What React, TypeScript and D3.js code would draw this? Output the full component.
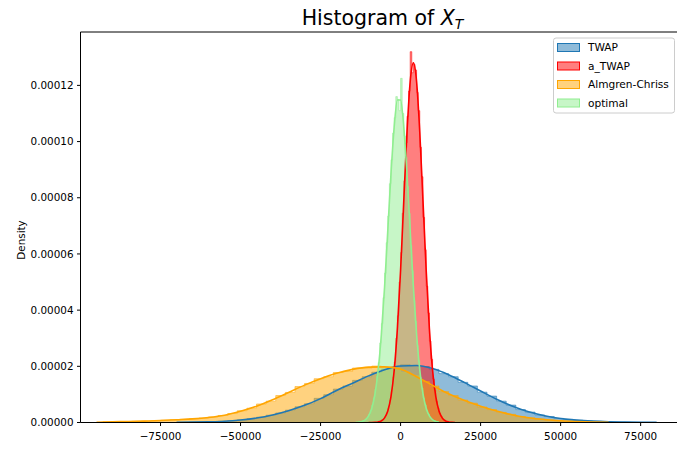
import React from 'react';
import * as d3 from 'd3';

// ---------- data (densities in units of 1e-6) ----------
const seriesNames = ['TWAP', 'a_TWAP', 'Almgren-Chriss', 'optimal'];
const seriesColors = ['#1f77b4', '#ff0000', '#ffa500', '#90ee90'];

// TWAP histogram: bins start at -66000, width 3000
const twapBinStart = -66000;
const twapBinWidth = 3000;
const twapHist = [
  0.15, 0.22, 0.3, 0.45, 0.65, 0.95, 1.35, 1.9, 2.6, 3.4, 4.4, 5.6, 6.7, 8.6, 9.9, 11.9,
  13.0, 15.0, 16.3, 17.9, 19.0, 19.7, 20.6, 20.0, 19.9, 18.9, 17.4, 16.3, 14.3, 13.0, 10.8,
  9.4, 7.6, 6.2, 4.6, 3.7, 2.7, 2.1, 1.45, 1.1, 0.8, 0.55, 0.38, 0.27, 0.17, 0.11, 0.07, 0.04,
];
const twapKdeX = [
  -70000, -65000, -60000, -55000, -50000, -45000, -40000, -35000, -30000, -25000, -20000, -15000,
  -10000, -5000, 0, 5000, 10000, 15000, 20000, 25000, 30000, 35000, 40000, 45000, 50000, 55000,
  60000, 65000, 70000, 75000, 80000,
];
const twapKdeY = [
  0.05, 0.15, 0.25, 0.45, 0.9, 1.6, 2.7, 4.2, 6.1, 8.5, 11.4, 14.0, 16.6, 18.8, 20.1, 20.3,
  19.2, 17.0, 14.2, 11.2, 8.3, 5.8, 3.8, 2.4, 1.45, 0.85, 0.5, 0.28, 0.15, 0.07, 0.03,
];

// a_TWAP histogram: bins start at -9000, width 500
const aTwapBinStart = -9000;
const aTwapBinWidth = 500;
const aTwapHist = [
  0.02, 0.04, 0.08, 0.15, 0.3, 0.45, 0.8, 1.3, 2.0, 3.4, 5.0, 7.9, 11.0, 16.2, 21.5, 30.0,
  38.0, 50.0, 60.5, 74.5, 86.0, 99.5, 109.0, 118.0, 132.0, 124.5, 127.5, 125.5, 117.5, 111.0,
  98.0, 87.5, 73.0, 61.5, 48.5, 39.0, 29.0, 22.5, 15.5, 11.5, 7.5, 5.2, 3.2, 2.1, 1.3, 0.8,
  0.45, 0.26, 0.15, 0.08, 0.04,
];
const aTwapKdeX = [
  -10000, -9000, -8000, -7000, -6000, -5000, -4000, -3000, -2000, -1000, 0, 1000, 2000, 3000,
  4000, 5000, 6000, 7000, 8000, 9000, 10000, 11000, 12000, 13000, 14000, 15000, 16000, 17000,
];
const aTwapKdeY = [
  0.0, 0.01, 0.06, 0.19, 0.59, 1.65, 4.1, 9.2, 18.5, 33.4, 54.2, 78.9, 103.2, 121.3, 128.0,
  121.3, 103.2, 78.9, 54.2, 33.4, 18.5, 9.2, 4.1, 1.65, 0.59, 0.19, 0.06, 0.01,
];

// Almgren-Chriss histogram: bins start at -93000, width 3000
const acBinStart = -93000;
const acBinWidth = 3000;
const acHist = [
  0.25, 0.28, 0.32, 0.42, 0.5, 0.62, 0.8, 0.95, 1.15, 1.35, 1.6, 2.0, 2.5, 3.2, 4.2, 5.1, 6.6,
  7.6, 9.6, 10.7, 12.8, 13.9, 15.6, 16.3, 17.8, 18.2, 19.4, 19.3, 20.1, 19.6, 19.4, 17.9, 16.6,
  14.6, 13.0, 11.0, 9.6, 8.0, 6.9, 5.5, 4.6, 3.6, 2.9, 2.1, 1.65, 1.2, 0.9, 0.62, 0.44, 0.3,
  0.19, 0.12, 0.07,
];
const acKdeX = [
  -95000, -90000, -85000, -80000, -75000, -70000, -65000, -60000, -55000, -50000, -45000,
  -40000, -35000, -30000, -25000, -20000, -15000, -10000, -5000, 0, 5000, 10000, 15000, 20000,
  25000, 30000, 35000, 40000, 45000, 50000, 55000, 60000, 65000,
];
const acKdeY = [
  0.1, 0.25, 0.35, 0.5, 0.7, 1.0, 1.3, 1.8, 2.6, 4.0, 5.8, 8.1, 10.7, 13.3, 15.6, 17.5, 18.9,
  19.7, 19.8, 19.0, 16.3, 13.2, 10.2, 7.8, 5.8, 4.1, 2.7, 1.7, 1.05, 0.6, 0.35, 0.18, 0.08,
];

// optimal histogram: bins start at -13000, width 500
const optBinStart = -13000;
const optBinWidth = 500;
const optHist = [
  0.18, 0.3, 0.5, 0.8, 1.25, 1.9, 2.9, 4.3, 6.2, 8.8, 12.0, 16.5, 21.3, 28.3, 35.2, 44.4, 53.2,
  64.0, 73.5, 85.0, 93.5, 103.0, 108.5, 116.0, 115.0, 111.0, 122.5, 110.0, 102.0, 94.5, 84.0,
  74.5, 63.0, 54.0, 43.5, 36.0, 27.5, 22.0, 16.0, 12.3, 8.6, 6.3, 4.2, 3.0, 1.9, 1.2, 0.8, 0.5,
];
const optKdeX = [
  -14000, -13000, -12000, -11000, -10000, -9000, -8000, -7000, -6000, -5000, -4000, -3000,
  -2000, -1000, 0, 1000, 2000, 3000, 4000, 5000, 6000, 7000, 8000, 9000, 10000, 11000, 12000,
];
const optKdeY = [
  0.04, 0.13, 0.38, 0.98, 2.35, 5.1, 10.2, 18.7, 31.4, 48.3, 68.3, 88.5, 105.2, 114.8, 114.8,
  105.2, 88.5, 68.3, 48.3, 31.4, 18.7, 10.2, 5.1, 2.35, 0.98, 0.38, 0.13,
];

const xTicks = [-75000, -50000, -25000, 0, 25000, 50000, 75000];
const yTicks = [0, 0.00002, 0.00004, 0.00006, 0.00008, 0.0001, 0.00012];

const UNIT = 1e-6;

const FONT = 'DejaVu Sans, Liberation Sans, sans-serif';

export default function App() {
  const left = 80.5;
  const right = 684.5;
  const top = 32;
  const bottom = 422.5;

  const x = d3.scaleLinear().domain([-100000, 88700]).range([left, right]);
  const y = d3.scaleLinear().domain([0, 0.000139]).range([bottom, top]);

  const hists = [
    { start: twapBinStart, width: twapBinWidth, vals: twapHist },
    { start: aTwapBinStart, width: aTwapBinWidth, vals: aTwapHist },
    { start: acBinStart, width: acBinWidth, vals: acHist },
    { start: optBinStart, width: optBinWidth, vals: optHist },
  ];
  const kdes = [
    { xs: twapKdeX, ys: twapKdeY },
    { xs: aTwapKdeX, ys: aTwapKdeY },
    { xs: acKdeX, ys: acKdeY },
    { xs: optKdeX, ys: optKdeY },
  ];

  const area = d3
    .area<[number, number]>()
    .x((d) => x(d[0]))
    .y0(y(0))
    .y1((d) => y(d[1] * UNIT))
    .curve(d3.curveStepAfter);

  const line = d3
    .line<[number, number]>()
    .x((d) => x(d[0]))
    .y((d) => y(d[1] * UNIT))
    .curve(d3.curveMonotoneX);

  const fillPaths = hists.map((h) => {
    const pts: [number, number][] = h.vals.map((v, i) => [h.start + i * h.width, v]);
    pts.push([h.start + h.vals.length * h.width, h.vals[h.vals.length - 1]]);
    return area(pts) || '';
  });
  const kdePaths = kdes.map((k) => line(k.xs.map((xv, i) => [xv, k.ys[i]] as [number, number])) || '');

  const fmtX = (v: number) => (v < 0 ? '\u2212' + Math.abs(v) : String(v));

  return (
    <svg
      width={677}
      height={449}
      style={{ position: 'absolute', left: 0, top: 0, background: '#fff' }}
      fontFamily={FONT}
    >
      <rect x={0} y={0} width={677} height={449} fill="#fff" />
      <defs>
        <clipPath id="plotclip">
          <rect x={left} y={top} width={right - left} height={bottom - top} />
        </clipPath>
      </defs>
      <g clipPath="url(#plotclip)">
        {fillPaths.map((p, i) => (
          <path
            key={'f' + i}
            d={p}
            fill={seriesColors[i]}
            fillOpacity={0.5}
            stroke={seriesColors[i]}
            strokeOpacity={0.5}
            strokeWidth={1}
          />
        ))}
        {kdePaths.map((p, i) => (
          <path key={'k' + i} d={p} fill="none" stroke={seriesColors[i]} strokeWidth={1.6} />
        ))}
      </g>

      {/* spines */}
      <g stroke="#000" strokeWidth={1} fill="none">
        <line x1={left} x2={left} y1={top} y2={bottom} />
        <line x1={left} x2={right} y1={bottom} y2={bottom} />
        <line x1={left} x2={right} y1={top} y2={top} />
        <line x1={right} x2={right} y1={top} y2={bottom} />
      </g>

      {/* x ticks */}
      {xTicks.map((t) => (
        <g key={'xt' + t}>
          <line x1={x(t)} x2={x(t)} y1={bottom} y2={bottom + 3.5} stroke="#000" strokeWidth={1} />
          <text x={x(t)} y={439.5} textAnchor="middle" fontSize={10.4} fill="#000">
            {fmtX(t)}
          </text>
        </g>
      ))}

      {/* y ticks */}
      {yTicks.map((t) => (
        <g key={'yt' + t}>
          <line x1={left - 3.5} x2={left} y1={y(t)} y2={y(t)} stroke="#000" strokeWidth={1} />
          <text x={left - 7} y={y(t) + 3.7} textAnchor="end" fontSize={10.4} fill="#000">
            {t.toFixed(5)}
          </text>
        </g>
      ))}

      {/* y label */}
      <text
        transform={`translate(25,240) rotate(-90)`}
        textAnchor="middle"
        fontSize={10.4}
        fill="#000"
      >
        Density
      </text>

      {/* title */}
      <text x={(left + right) / 2} y={25} textAnchor="middle" fontSize={20.5} fill="#000">
        Histogram of <tspan fontStyle="italic">X</tspan>
        <tspan fontStyle="italic" fontSize={14} dy={4}>
          T
        </tspan>
      </text>

      {/* legend */}
      <g>
        <rect x={553.5} y={38} width={121} height={75} rx={2.5} fill="#fff" fillOpacity={0.8} stroke="#cccccc" strokeWidth={1} />
        {seriesNames.map((name, i) => {
          const cy = 47.5 + i * 18.5;
          return (
            <g key={'lg' + i}>
              <rect
                x={557.5}
                y={cy - 4}
                width={22}
                height={8}
                fill={seriesColors[i]}
                fillOpacity={0.5}
                stroke={seriesColors[i]}
                strokeWidth={1}
              />
              <text x={588} y={cy + 3.8} fontSize={10.6} fill="#000">
                {name}
              </text>
            </g>
          );
        })}
      </g>
    </svg>
  );
}
